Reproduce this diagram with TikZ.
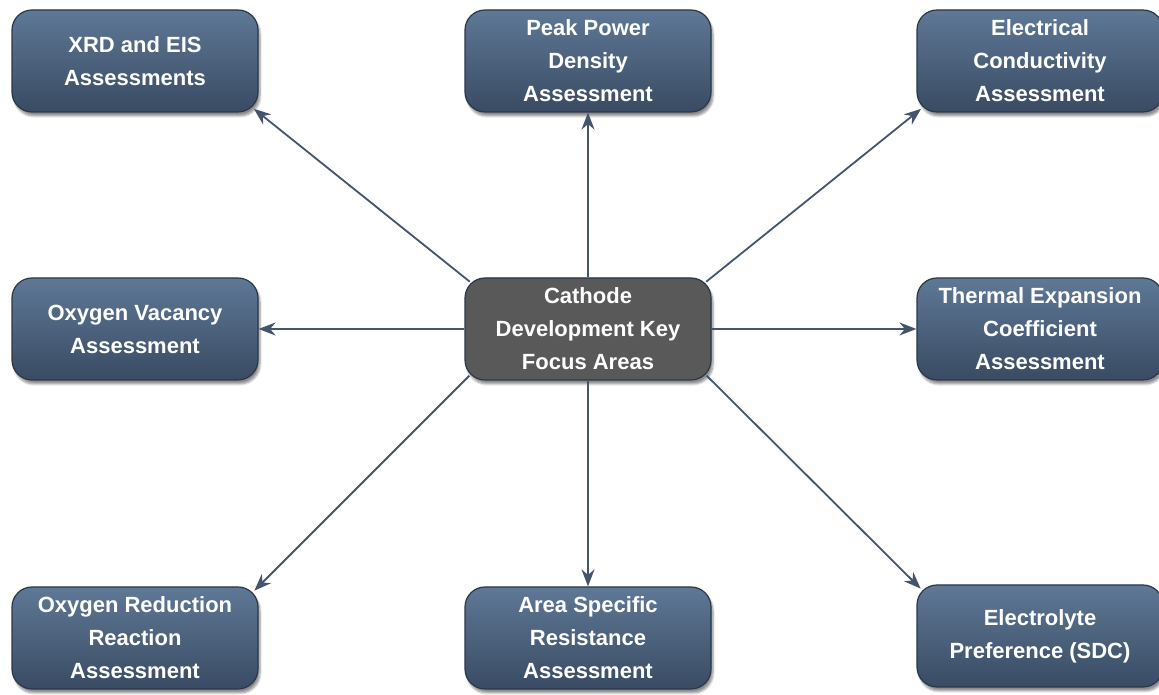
\documentclass[tikz,border=0pt]{standalone}
\usepackage{fontspec}
\setmainfont{Liberation Sans}
\usepackage{tikz}
\usetikzlibrary{arrows.meta,shadows.blur}
\definecolor{boxtop}{HTML}{5E7896}
\definecolor{boxbot}{HTML}{3A4B63}
\definecolor{boxline}{HTML}{2A3748}
\definecolor{hubfill}{HTML}{595959}
\definecolor{linkcol}{HTML}{44546A}
\tikzstyle{area}=[rectangle, rounded corners=20pt, minimum width=246pt, minimum height=102pt, inner sep=2pt,
  top color=boxtop, bottom color=boxbot, draw=boxline, line width=1.2pt, text=white, align=center,
  font=\fontsize{22}{33}\selectfont\bfseries, blur shadow={shadow xshift=2pt, shadow yshift=-4pt, shadow blur steps=6, shadow opacity=45}]
\tikzstyle{hub} = [area, top color=hubfill, bottom color=hubfill, fill=hubfill]
\tikzstyle{link} = [draw, line width=1.8pt, linkcol, -{Stealth[length=17pt,width=13pt]}]

\begin{document}
\begin{tikzpicture}[x=1pt, y=1pt]

	\useasboundingbox (0,0) rectangle (1159,695);

	\node[hub] (c) at (588,366) {Cathode\\Development Key\\Focus Areas};

	\node[area] (v_1) at (135,634) {XRD and EIS\\Assessments};
	\node[area] (v_2) at (588,634) {Peak Power\\Density\\Assessment};
	\node[area] (v_3) at (1040,634) {Electrical\\Conductivity\\Assessment};
	\node[area] (v_4) at (135,366) {Oxygen Vacancy\\Assessment};
	\node[area] (v_5) at (1040,366) {Thermal Expansion\\Coefficient\\Assessment};
	\node[area] (v_6) at (135,57) {Oxygen Reduction\\Reaction\\Assessment};
	\node[area] (v_7) at (588,57) {Area Specific\\Resistance\\Assessment};
	\node[area] (v_8) at (1040,59) {Electrolyte\\Preference (SDC)};

	% straight links up, down and sideways
	\draw[link] (c.north) -- (v_2.south);
	\draw[link] (c.south) -- (v_7.north);
	\draw[link] (c.west) -- (v_4.east);
	\draw[link] (c.east) -- (v_5.west);

	% diagonal links, corner to corner
	\foreach \from/\to in {north west/v_1.south east, north east/v_3.south west,
		south west/v_6.north east, south east/v_8.north west}{
		\draw[link, shorten <=-7pt, shorten >=-6pt] (c.\from) -- (\to);
	}

\end{tikzpicture}
\end{document}
